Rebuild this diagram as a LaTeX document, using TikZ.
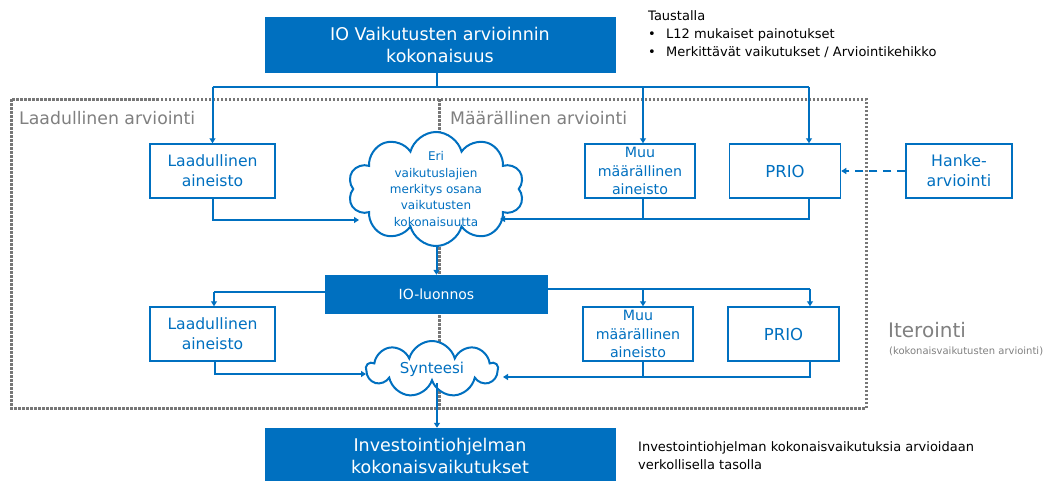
\documentclass[tikz,border=0pt]{standalone}
\usepackage{fontspec}
\setmainfont{DejaVu Sans}
\usetikzlibrary{shapes.symbols,arrows.meta}
\definecolor{ioblue}{HTML}{0070C0}
\definecolor{iogray}{HTML}{808080}
\definecolor{dotgray}{HTML}{777777}
\newcommand{\fs}[2]{\fontsize{#1}{#2}\selectfont}
\begin{document}
\begin{tikzpicture}[x=1pt,y=-1pt,
  bluebox/.style={fill=ioblue, draw=ioblue, text=white, align=center, inner sep=0pt},
  whitebox/.style={draw=ioblue, line width=1.5pt, fill=white, text=ioblue, align=center, inner sep=0pt, minimum height=54pt},
  conn/.style={draw=ioblue, line width=2pt},
  arr/.style={conn, -{Triangle[length=5pt,width=6pt]}},
  dasharr/.style={conn, dash pattern=on 8pt off 6pt, -{Triangle[length=5pt,width=6pt]}},
  dotline/.style={draw=dotgray, line width=3pt, dash pattern=on 2.5pt off 1.5pt},
  cloudnode/.style={cloud, cloud ignores aspect, draw=ioblue, line width=2pt, fill=white, inner sep=0pt},
  graytext/.style={text=iogray, inner sep=0pt}
]
\useasboundingbox (0,0) rectangle (1045,480);
\fill[white] (0,0) rectangle (1045,480);

% dotted frame and divider
\draw[dotline] (11,99) rectangle (866,408);
\coordinate (divtop) at (439,99);
\coordinate (divbot) at (439,408);
\draw[dotline] (divtop) -- (divbot);

\node[graytext, anchor=west, font=\fs{17.3}{20}] (lab1) at (19,118) {Laadullinen arviointi};
\node[graytext, anchor=west, font=\fs{17.3}{20}] (lab2) at (450,118) {Määrällinen arviointi};
\node[graytext, anchor=west, font=\fs{20}{24}] (iter) at (888,330) {Iterointi};
\node[graytext, anchor=west, font=\fs{10}{12}] (iter2) at (889,351) {(kokonaisvaikutusten arviointi)};

% top
\node[bluebox, minimum width=350pt, minimum height=55pt, font=\fs{17.5}{22}] (top) at (440,44.5) {IO Vaikutusten arvioinnin\\kokonaisuus};
\node[anchor=north west, align=left, inner sep=0pt, font=\fs{13}{18}] (tausta) at (648,10)
  {Taustalla\\\makebox[18pt][l]{\textbullet}L12 mukaiset painotukset\\\makebox[18pt][l]{\textbullet}Merkittävät vaikutukset / Arviointikehikko};

% row 1
\node[whitebox, minimum width=125pt, font=\fs{15.6}{20}] (laad1) at (212.5,171) {Laadullinen\\aineisto};
\node[cloudnode, cloud puffs=10, minimum width=176pt, minimum height=114pt,
  label={[text=ioblue, align=center, font=\fs{12}{16.3}]center:Eri\\vaikutuslajien\\merkitys osana\\vaikutusten\\kokonaisuutta}] (cloud1) at (436,189) {};
\node[whitebox, minimum width=110pt, font=\fs{14.2}{18.5}] (muu1) at (640,171) {Muu\\määrällinen\\aineisto};
\node[whitebox, minimum width=111pt, font=\fs{16.5}{18}] (prio1) at (785,171) {PRIO};
\node[whitebox, minimum width=106pt, font=\fs{15.8}{20}] (hanke) at (959,171) {Hanke-\\arviointi};

% middle
\node[bluebox, minimum width=222pt, minimum height=38pt, font=\fs{14}{18}] (luonnos) at (436.5,294) {IO-luonnos};

% row 2
\node[whitebox, minimum width=125pt, font=\fs{15.6}{20}] (laad2) at (212.5,334) {Laadullinen\\aineisto};
\node[cloudnode, cloud puffs=9, minimum width=131pt, minimum height=56pt,
  label={[text=ioblue, font=\fs{15}{18}]center:Synteesi}] (synt) at (432,369) {};
\node[whitebox, minimum width=110pt, font=\fs{14.2}{18.5}] (muu2) at (638,334) {Muu\\määrällinen\\aineisto};
\node[whitebox, minimum width=111pt, font=\fs{16.5}{18}] (prio2) at (783.5,334) {PRIO};

% bottom
\node[bluebox, minimum width=350pt, minimum height=55pt, font=\fs{17.5}{22}] (bottom) at (440,455.5) {Investointiohjelman\\kokonaisvaikutukset};
\node[anchor=north west, align=left, inner sep=0pt, font=\fs{13}{18}] (note) at (638,441)
  {Investointiohjelman kokonaisvaikutuksia arvioidaan\\verkollisella tasolla};

% connectors top
\coordinate (j1) at (437,87);
\coordinate (p1) at (809,87);
\draw[conn] (top.south -| j1) -- (j1);
\draw[conn] (laad1.north |- j1) -- (p1);
\draw[arr] (laad1.north |- j1) -- (laad1.north);
\draw[arr] (643,87) -- (muu1.north -| 643,0);
\draw[arr] (p1) -- (prio1.north -| p1);
\draw[dasharr] (hanke.west) -- (prio1.east);

% into cloud1
\coordinate (c1l) at (359,220);
\coordinate (c1r) at (500,219);
\draw[arr] (laad1.south) |- (c1l);
\draw[conn] (muu1.south -| 643,0) -- (643,219);
\draw[arr] (prio1.south -| p1) |- (c1r);

\draw[arr] (cloud1.south -| luonnos.north) -- (luonnos.north);

% from luonnos
\coordinate (l2) at (214,292);
\coordinate (r2) at (810,289);
\draw[conn] (luonnos.west |- l2) -- (l2);
\draw[arr] (l2) -- (laad2.north -| l2);
\draw[conn] (luonnos.east |- r2) -- (r2);
\draw[arr] (r2) -- (prio2.north -| r2);
\draw[arr] (643,289) -- (muu2.north -| 643,0);

% into synteesi
\coordinate (sl) at (366,374);
\coordinate (sr) at (503,377);
\draw[arr] (laad2.south -| 215,0) |- (sl);
\draw[conn] (muu2.south -| 643,0) -- (643,377);
\draw[arr] (prio2.south -| r2) |- (sr);

\draw[arr] (synt.south -| 437,0) -- (bottom.north -| 437,0);
\end{tikzpicture}
\end{document}
